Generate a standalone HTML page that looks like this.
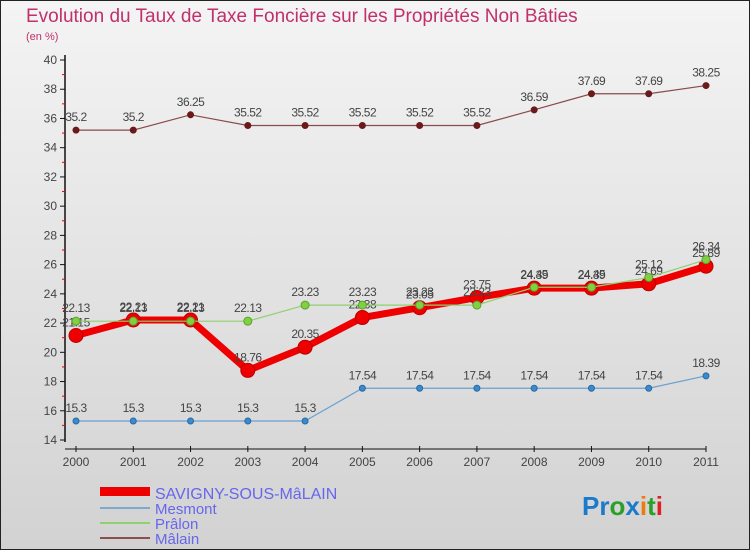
<!DOCTYPE html>
<html><head><meta charset="utf-8"><style>
body{margin:0;}
#c{width:750px;height:550px;position:relative;overflow:hidden;font-family:"Liberation Sans","DejaVu Sans",sans-serif;}
</style></head><body>
<div id="c">
<svg id="s" width="750" height="550" xmlns="http://www.w3.org/2000/svg">
<defs><linearGradient id="bg" x1="0" y1="0" x2="0" y2="1"><stop offset="0" stop-color="#f4f4f4"/><stop offset="1" stop-color="#d2d2d2"/></linearGradient></defs>
<rect x="0.5" y="0.5" width="749" height="549" fill="url(#bg)" stroke="#222"/>
<text x="26" y="22" font-size="19" fill="#c0306a">Evolution du Taux de Taxe Foncière sur les Propriétés Non Bâties</text>
<text x="26" y="40" font-size="11" fill="#c0306a">(en %)</text>
<g id="axes"></g><g id="series"></g>
<g>
<rect x="100" y="487" width="50" height="9" fill="#e00"/>
<text x="155" y="499" font-size="16" fill="#6666ee">SAVIGNY-SOUS-MâLAIN</text>
<line x1="100" y1="508" x2="150" y2="508" stroke="#7aaad0" stroke-width="2"/>
<text x="155" y="514" font-size="15" fill="#6666ee">Mesmont</text>
<line x1="100" y1="523" x2="150" y2="523" stroke="#90d070" stroke-width="2"/>
<text x="155" y="529" font-size="15" fill="#6666ee">Prâlon</text>
<line x1="100" y1="538" x2="150" y2="538" stroke="#8a5050" stroke-width="2"/>
<text x="155" y="544" font-size="15" fill="#6666ee">Mâlain</text>
</g>
<g font-size="26" font-weight="bold">
<text x="582" y="515"><tspan fill="#1a7acc">Pr</tspan><tspan fill="#2aa02a">o</tspan><tspan fill="#1a7acc">x</tspan><tspan fill="#f07a10">i</tspan><tspan fill="#2aa02a">t</tspan><tspan fill="#e02020">i</tspan></text>
</g>
</svg>
</div>
<script>
const years=["2000","2001","2002","2003","2004","2005","2006","2007","2008","2009","2010","2011"];
const savigny=[21.15,22.21,22.21,18.76,20.35,22.38,23.05,23.75,24.39,24.39,24.69,25.89];
const mesmont=[15.3,15.3,15.3,15.3,15.3,17.54,17.54,17.54,17.54,17.54,17.54,18.39];
const pralon=[22.13,22.13,22.13,22.13,23.23,23.23,23.23,23.23,24.45,24.45,25.12,26.34];
const malain=[35.2,35.2,36.25,35.52,35.52,35.52,35.52,35.52,36.59,37.69,37.69,38.25];
const yTicks=[14,16,18,20,22,24,26,28,30,32,34,36,38,40];
const NS="http://www.w3.org/2000/svg";
function X(i){return 76+i*(706-76)/11;}
function Y(v){return 60+(40-v)*(440-60)/26;}
function mk(t,a,p){const e=document.createElementNS(NS,t);for(const k in a)e.setAttribute(k,a[k]);p.appendChild(e);return e;}
const ax=document.getElementById('axes');
const yl=mk('line',{x1:65,y1:55,x2:65,y2:442,stroke:'#111','stroke-width':1.5},ax);


const xl=mk('line',{x1:65,y1:449,x2:706,y2:449,stroke:'#111','stroke-width':1},ax);


yTicks.forEach((v,i)=>{
 mk('line',{x1:60,y1:Y(v),x2:65,y2:Y(v),stroke:'#111'},ax);
 if(i<yTicks.length-1)mk('line',{x1:62,y1:Y(v+1),x2:65,y2:Y(v+1),stroke:'#e00'},ax);
 const t=mk('text',{x:57,y:Y(v)+4,'text-anchor':'end','font-size':12,fill:'#444'},ax);
 t.textContent=v;
 
 
});
years.forEach((y,i)=>{
 mk('line',{x1:X(i),y1:446,x2:X(i),y2:452,stroke:'#111'},ax);
 const t=mk('text',{x:X(i),y:466,'text-anchor':'middle','font-size':12,fill:'#444'},ax);
 t.textContent=y;
 
 
});
const sg=document.getElementById('series');
function draw(name,vals,color,w,r,fill,stroke){
 const g=mk('g',{},sg);
 
 
 mk('polyline',{points:vals.map((v,i)=>X(i)+','+Y(v)).join(' '),fill:'none',stroke:color,'stroke-width':w},g);
 vals.forEach((v,i)=>{
  const c=mk('circle',{cx:X(i),cy:Y(v),r:r,fill:fill,stroke:stroke},g);
  
  
  const t=mk('text',{x:X(i),y:Y(v)-9,'text-anchor':'middle','font-size':12,fill:'#444','letter-spacing':'-0.5'},g);
  t.textContent=v;
  
  
 });
}
draw('malain',malain,'#8a4a4a',1.2,3,'#6a1a1a','#6a1a1a');
draw('mesmont',mesmont,'#6aa0d0',1.2,3,'#3a8ad0','#2a6aa0');
draw('savigny',savigny,'#e00',7,7,'#e00','#b00');
draw('pralon',pralon,'#90d070',1.2,4,'#80d040','#5aa030');
</script>
</body></html>
